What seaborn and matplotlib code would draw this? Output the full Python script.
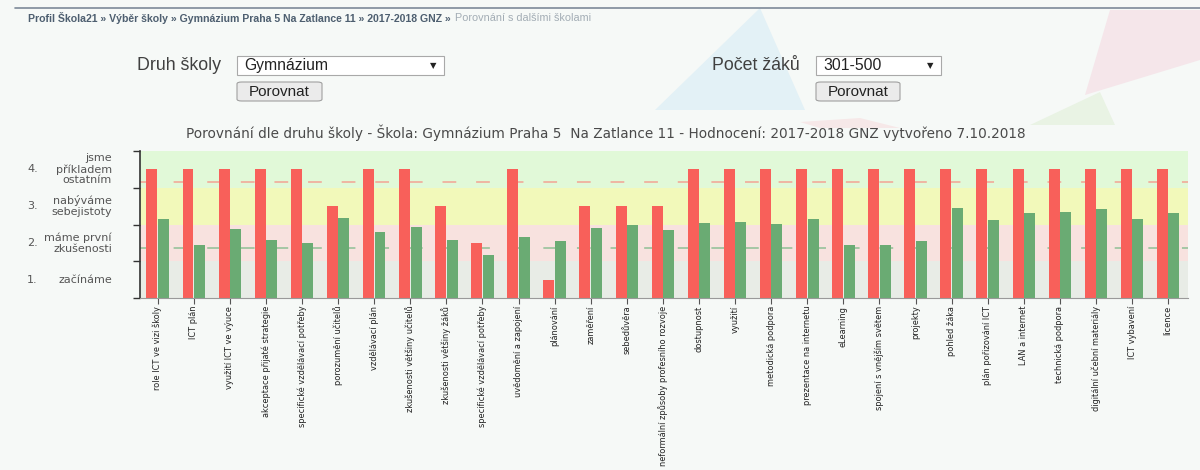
import matplotlib
matplotlib.use("Agg")
import numpy as np
import pandas as pd
import matplotlib.pyplot as plt
import matplotlib.transforms as mtransforms
from matplotlib import font_manager
from matplotlib.font_manager import FontProperties
from matplotlib.patches import Rectangle, FancyBboxPatch, Polygon
import seaborn as sns

# data
oblasti = [
    "role ICT ve vizi školy", "ICT plán", "využití ICT ve výuce",
    "akceptace přijaté strategie", "specifické vzdělávací potřeby",
    "porozumění učitelů", "vzdělávací plán", "zkušenosti většiny učitelů",
    "zkušenosti většiny žáků", "specifické vzdělávací potřeby",
    "uvědomění a zapojení", "plánování", "zaměření", "sebedůvěra",
    "neformální způsoby profesního rozvoje", "dostupnost", "využití",
    "metodická podpora", "prezentace na internetu", "eLearning",
    "spojení s vnějším světem", "projekty", "pohled žáka",
    "plán pořizování ICT", "LAN a internet", "technická podpora",
    "digitální učební materiály", "ICT vybavení", "licence",
]
skola = [3.5, 3.5, 3.5, 3.5, 3.5, 2.5, 3.5, 3.5, 2.5, 1.5,
         3.5, 0.5, 2.5, 2.5, 2.5, 3.5, 3.5, 3.5, 3.5, 3.5,
         3.5, 3.5, 3.5, 3.5, 3.5, 3.5, 3.5, 3.5, 3.5]
druh_skoly = [2.14, 1.45, 1.88, 1.59, 1.50, 2.19, 1.79, 1.94, 1.57, 1.16,
              1.66, 1.56, 1.91, 1.99, 1.86, 2.04, 2.06, 2.01, 2.15, 1.44,
              1.45, 1.55, 2.45, 2.13, 2.30, 2.33, 2.41, 2.15, 2.31]
ref_skola = 3.15
ref_druh = 1.35

urovne = [0.5, 1.5, 2.5, 3.5]
cisla_urovni = ["1.", "2.", "3.", "4."]
popisy_urovni = ["začínáme", "máme první\nzkušenosti",
                 "nabýváme\nsebejistoty", "jsme\npříkladem\nostatním"]
pasma = [(0, 1, "#e8ece6"), (1, 2, "#f8e2df"), (2, 3, "#f2f9ba"), (3, 4, "#e1f9d8")]

titulek = ("Porovnání dle druhu školy - Škola: Gymnázium Praha 5  Na Zatlance 11 - "
           "Hodnocení: 2017-2018 GNZ vytvořeno 7.10.2018")

sns.set_style("ticks")
plt.rcParams["font.family"] = ["DejaVu Sans"]

installed = {f.name for f in font_manager.fontManager.ttflist}
arial = "Liberation Sans" if "Liberation Sans" in installed else "DejaVu Sans"

# narrow face for the rotated category labels
narrow_fp = None
for f in font_manager.fontManager.ttflist:
    if f.name == "Liberation Sans Narrow" and f.weight in (400, "normal") and f.style == "normal":
        narrow_fp = FontProperties(fname=f.fname, size=7.3)
        break
if narrow_fp is None:
    for f in font_manager.fontManager.ttflist:
        if "DejaVuSansCondensed.ttf" in f.fname:
            narrow_fp = FontProperties(fname=f.fname, size=6.6)
            break
if narrow_fp is None:
    narrow_fp = FontProperties(family="DejaVu Sans", size=6.0)

W, H = 1200, 470
BG = "#f6f9f7"


def fx(x):
    return x / W


def fy(y):
    return 1 - y / H


df = pd.DataFrame({
    "idx": list(range(len(oblasti))) * 2,
    "hodnota": skola + druh_skoly,
    "serie": ["Škola"] * len(oblasti) + ["Druh školy"] * len(oblasti),
})

fig = plt.figure(figsize=(W / 100, H / 100), dpi=100, facecolor=BG)

# faint watermark shapes of the page
for pts, col in [
    ([(655, 110), (760, 8), (805, 110)], "#e3f1f6"),
    ([(1085, 95), (1110, 10), (1200, 10), (1200, 60)], "#f5e6ea"),
    ([(1030, 125), (1100, 92), (1115, 125)], "#e9f3e4"),
    ([(800, 122), (860, 118), (900, 128), (820, 128)], "#f6e8e8"),
]:
    fig.patches.append(Polygon([(fx(a), fy(b)) for a, b in pts], closed=True,
                               transform=fig.transFigure, facecolor=col,
                               edgecolor="none", zorder=0))

# top rule and breadcrumb
fig.add_artist(plt.Line2D([fx(15), fx(1200)], [fy(8), fy(8)], color="#7d8a99", lw=1.2))
crumb = fig.text(fx(28), fy(18), "Profil Škola21 » Výběr školy » Gymnázium Praha 5 Na Zatlance 11 » 2017-2018 GNZ »",
                 fontsize=7.6, fontweight="bold", color="#4e5f70", va="center", family=arial)
fig.canvas.draw()
bb = crumb.get_window_extent()
fig.text((bb.x1 + 4) / W, fy(18), "Porovnání s dalšími školami", fontsize=7.8,
         color="#a3adb5", va="center", family=arial)


# form controls
def dropdown(x0, x1, label):
    fig.patches.append(Rectangle((fx(x0), fy(75)), fx(x1 - x0), (75 - 56) / H,
                                 transform=fig.transFigure, facecolor="white",
                                 edgecolor="#a9a9a9", lw=0.8))
    fig.text(fx(x0 + 7), fy(65.5), label, fontsize=11.3, color="#222222", va="center", family=arial)
    fig.text(fx(x1 - 11), fy(65.5), "▼", fontsize=6, color="#222222", va="center", ha="center")


def button(x0, x1):
    fig.patches.append(FancyBboxPatch((fx(x0), fy(101)), fx(x1 - x0), (101 - 82) / H,
                                      boxstyle="round,pad=0,rounding_size=0.004",
                                      transform=fig.transFigure, facecolor="#ebebeb",
                                      edgecolor="#a0a0a0", lw=0.8))
    fig.text(fx((x0 + x1) / 2), fy(91.5), "Porovnat", fontsize=11, color="#222222",
             va="center", ha="center", family=arial)


fig.text(fx(137), fy(65.5), "Druh školy", fontsize=12.8, color="#404040", va="center", family=arial)
dropdown(237, 444, "Gymnázium")
button(237, 322)
fig.text(fx(712), fy(65.5), "Počet žáků", fontsize=12.8, color="#404040", va="center", family=arial)
dropdown(816, 941, "301-500")
button(816, 900)

fig.text(fx(606), fy(133), titulek, fontsize=9.8, color="#4a4a4a", ha="center", va="center")

# chart
ax = fig.add_axes([fx(140), fy(298), fx(1188 - 140), (298 - 151) / H])
ax.set_facecolor(BG)
for lo, hi, col in pasma:
    ax.axhspan(lo, hi, color=col, lw=0, zorder=0)

sns.barplot(data=df, x="idx", y="hodnota", hue="serie", hue_order=["Škola", "Druh školy"],
            palette=["#f8605a", "#6aab73"], width=0.64, gap=0.05, saturation=1,
            linewidth=0, edgecolor="none", legend=False, ax=ax, zorder=2)

ax.axhline(ref_skola, color="#f2a494", lw=1.1, dashes=(9, 13), zorder=1)
ax.axhline(ref_druh, color="#8fbf95", lw=1.1, dashes=(9, 13), zorder=1)

ax.set_xlim(-0.49, len(oblasti) - 0.45)
ax.set_ylim(0, 4)
ax.set_xlabel("")
ax.set_ylabel("")
ax.set_yticks([0, 1, 2, 3, 4])
ax.set_yticklabels([])
ax.tick_params(axis="y", length=5, width=1, color="#333333")
ax.set_xticks(range(len(oblasti)))
ax.set_xticklabels(oblasti, rotation=90, fontproperties=narrow_fp, color="#222222")
ax.tick_params(axis="x", length=4, width=0.8, color="#555555", pad=1.5)
for s in ["top", "right"]:
    ax.spines[s].set_visible(False)
ax.spines["left"].set_color("#333333")
ax.spines["left"].set_linewidth(1.2)
ax.spines["bottom"].set_color("#999999")

trans = mtransforms.blended_transform_factory(fig.transFigure, ax.transData)
for y, num, txt in zip(urovne, cisla_urovni, popisy_urovni):
    ax.text(fx(27), y, num, transform=trans, fontsize=8, color="#555555", va="center", ha="left")
    ax.text(fx(112), y, txt, transform=trans, fontsize=8, color="#555555", va="center",
            ha="right", multialignment="right", linespacing=1.1)

fig.savefig("out.png", dpi=100, facecolor=BG)
